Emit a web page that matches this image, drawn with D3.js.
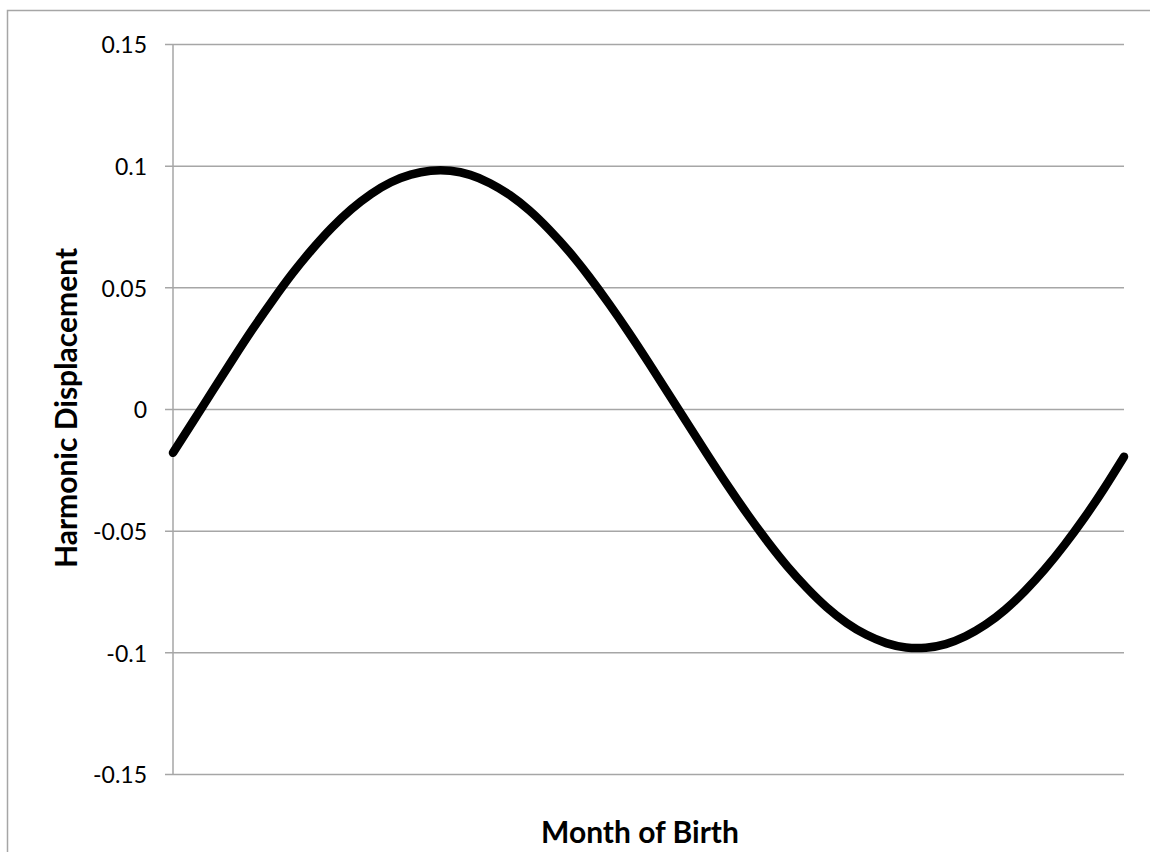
<!DOCTYPE html>
<html>
<head>
<meta charset="utf-8">
<script src="https://cdn.jsdelivr.net/npm/d3@7"></script>
<style>
  html, body { margin: 0; padding: 0; background: #fff; }
  svg { display: block; }
  svg text { font-family: Lato, "Open Sans", sans-serif; }
</style>
</head>
<body>
<script>

// DATA
// --------------------------------------------------------------------------

// Month positions, read every quarter month along the x axis.
var months = [
  0, 0.25, 0.5, 0.75, 1, 1.25, 1.5, 1.75, 2, 2.25, 2.5, 2.75,
  3, 3.25, 3.5, 3.75, 4, 4.25, 4.5, 4.75, 5, 5.25, 5.5, 5.75,
  6, 6.25, 6.5, 6.75, 7, 7.25, 7.5, 7.75, 8, 8.25, 8.5, 8.75,
  9, 9.25, 9.5, 9.75, 10, 10.25, 10.5, 10.75, 11, 11.25, 11.5, 11.75,
  12
];

// Harmonic displacement.
var displacement = [
  -0.0180, -0.0053, 0.0075, 0.0202, 0.0326, 0.0443, 0.0554, 0.0654,
  0.0744, 0.0821, 0.0884, 0.0932, 0.0963, 0.0979, 0.0979, 0.0962,
  0.0928, 0.0879, 0.0815, 0.0736, 0.0646, 0.0544, 0.0433, 0.0315,
  0.0191, 0.0064, -0.0064, -0.0191, -0.0315, -0.0433, -0.0544, -0.0646,
  -0.0736, -0.0815, -0.0879, -0.0928, -0.0962, -0.0980, -0.0981, -0.0966,
  -0.0934, -0.0887, -0.0825, -0.0748, -0.0659, -0.0558, -0.0447, -0.0326,
  -0.0196
];

var yTicks = [0.15, 0.1, 0.05, 0, -0.05, -0.1, -0.15];
var yTickLabels = ['0.15', '0.1', '0.05', '0', '-0.05', '-0.1', '-0.15'];

var xTitle = 'Month of Birth';
var yTitle = 'Harmonic Displacement';


// LAYOUT
// --------------------------------------------------------------------------

var W = 1150, H = 852;
var plot = { left: 173, right: 1124, top: 44, bottom: 774 };

var svg = d3.select('body').append('svg')
  .attr('width', W)
  .attr('height', H);

// Outer chart border (runs off the right and bottom edges).
svg.append('rect')
  .attr('x', 7.5).attr('y', 10.5)
  .attr('width', 1200).attr('height', 900)
  .attr('fill', 'none')
  .attr('stroke', '#a6a6a6')
  .attr('stroke-width', 1.5);

var x = d3.scaleLinear()
  .domain([0, 12])
  .range([plot.left, plot.right]);

var y = d3.scaleLinear()
  .domain([-0.15, 0.15])
  .range([plot.bottom, plot.top]);


// AXES
// --------------------------------------------------------------------------

// Horizontal gridlines with their outer tick stubs.
var yAxis = d3.axisLeft(y)
  .tickValues(yTicks)
  .tickSize(plot.right - plot.left + 8)
  .tickFormat(function(d, i) { return yTickLabels[i]; })
  .tickPadding(18);

var gy = svg.append('g')
  .attr('transform', 'translate(' + plot.right + ',0)')
  .call(yAxis)
  .attr('font-family', null)
  .attr('font-size', null);

gy.select('.domain').remove();
gy.selectAll('.tick line')
  .attr('stroke', '#a6a6a6')
  .attr('stroke-width', 1.5);
gy.selectAll('.tick text')
  .attr('fill', '#000')
  .attr('dy', '0.38em')
  .style('font-size', '23px');

// Vertical axis line.
svg.append('line')
  .attr('x1', plot.left).attr('x2', plot.left)
  .attr('y1', plot.top).attr('y2', plot.bottom)
  .attr('stroke', '#a6a6a6')
  .attr('stroke-width', 1.5);


// SERIES
// --------------------------------------------------------------------------

var points = months.map(function(m, i) {
  return [m, displacement[i]];
});

var line = d3.line()
  .curve(d3.curveNatural)
  .x(function(d) { return x(d[0]); })
  .y(function(d) { return y(d[1]); });

svg.append('path')
  .datum(points)
  .attr('d', line)
  .attr('fill', 'none')
  .attr('stroke', '#000')
  .attr('stroke-width', 8.5)
  .attr('stroke-linecap', 'round')
  .attr('stroke-linejoin', 'round');


// TITLES
// --------------------------------------------------------------------------

svg.append('text')
  .attr('x', 640)
  .attr('y', 843)
  .attr('text-anchor', 'middle')
  .style('font-size', '30px')
  .style('font-weight', 'bold')
  .text(xTitle);

svg.append('text')
  .attr('transform', 'translate(77,408) rotate(-90)')
  .attr('text-anchor', 'middle')
  .style('font-size', '30px')
  .style('font-weight', 'bold')
  .text(yTitle);

</script>
</body>
</html>
